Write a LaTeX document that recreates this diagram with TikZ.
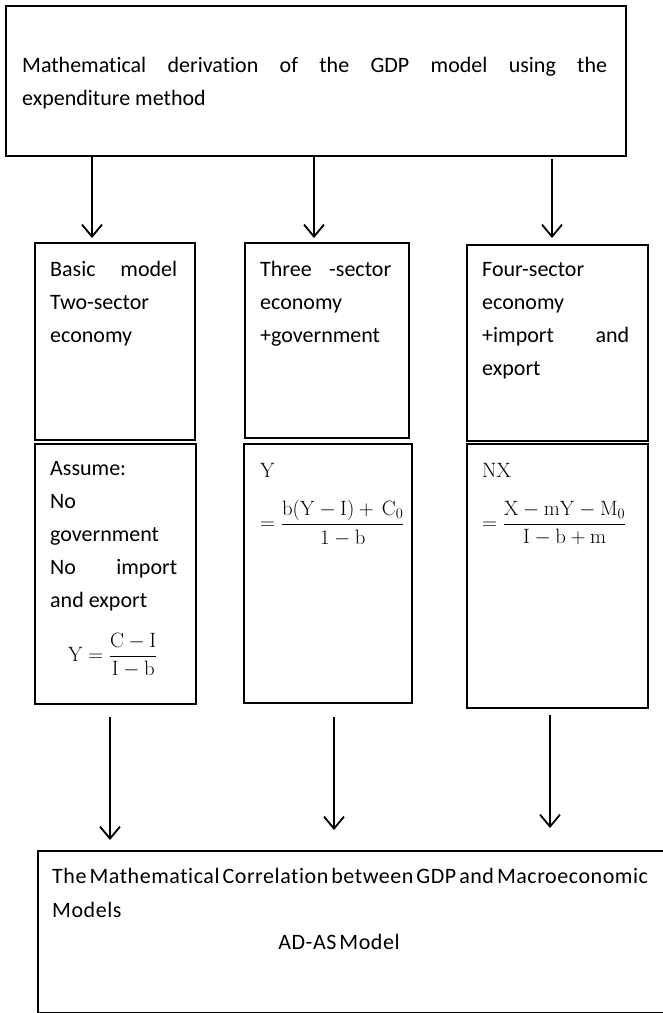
\documentclass[tikz,border=0pt]{standalone}
\usepackage[no-math]{fontspec}
\setmainfont[Ligatures=NoCommon]{Carlito}
\newfontfamily\widefont[Ligatures=NoCommon,LetterSpace=2.5]{Carlito}
\usetikzlibrary{arrows.meta}
\newcommand\fs{\fontsize{22}{33}\selectfont}
\begin{document}
\begin{tikzpicture}[x=1pt,y=-1pt,
  box/.style={draw, line width=2.4pt, inner sep=0pt, anchor=north west},
  txt/.style={anchor=base west, inner sep=0pt, font=\fs},
  mth/.style={anchor=west, inner sep=0pt, font=\fs},
  arr/.style={line width=1.8pt, -{Straight Barb[length=12pt,width=20pt,line width=1.8pt]}}]
\useasboundingbox (0,0) rectangle (663,1013);
\fill[white] (0,0) rectangle (663,1013);
% boxes
\node[box, minimum width=620pt, minimum height=150pt] (top) at (5,5) {};
\node[box, minimum width=160pt, minimum height=197pt] (b1u) at (34,242) {};
\node[box, minimum width=164pt, minimum height=195pt] (b2u) at (244,242) {};
\node[box, minimum width=181pt, minimum height=196pt] (b3u) at (466,244) {};
\node[box, minimum width=161pt, minimum height=260pt] (b1l) at (34,443) {};
\node[box, minimum width=168pt, minimum height=259pt] (b2l) at (243,443) {};
\node[box, minimum width=181pt, minimum height=264pt] (b3l) at (466,443) {};
\node[box, minimum width=640pt, minimum height=162pt] (bot) at (37,850) {};
% top text
\node[txt] (t1) at (22,72) {\makebox[585pt][s]{Mathematical derivation of the GDP model using the}};
\node[txt] (t2) at (22,105) {expenditure method};
% upper boxes text
\node[txt] (u11) at (50,276) {\makebox[127pt][s]{Basic model}};
\node[txt] (u12) at (50,309) {Two-sector};
\node[txt] (u13) at (50,342) {economy};
\node[txt] (u21) at (260,276) {\makebox[131pt][s]{Three -sector}};
\node[txt] (u22) at (260,309) {economy};
\node[txt] (u23) at (260,342) {+government};
\node[txt] (u31) at (482,276) {Four-sector};
\node[txt] (u32) at (482,309) {economy};
\node[txt] (u33) at (482,342) {\makebox[147pt][s]{+import and}};
\node[txt] (u34) at (482,375) {export};
% lower boxes text
\node[txt] (l11) at (50,475) {Assume:};
\node[txt] (l12) at (50,508) {No};
\node[txt] (l13) at (50,541) {government};
\node[txt] (l14) at (50,574) {\makebox[127pt][s]{No import}};
\node[txt] (l15) at (50,607) {and export};
\node[mth] (f1) at (68,655) {$\displaystyle \mathrm{Y}=\frac{\mathrm{C}-\mathrm{I}}{\mathrm{I}-\mathrm{b}}$};
\node[txt] (l21) at (260,477) {$\mathrm{Y}$};
\node[mth] (f2) at (260,523) {$\displaystyle =\frac{\mathrm{b(Y-I)+\,C_0}}{1-\mathrm{b}}$};
\node[txt] (l31) at (482,477) {$\mathrm{NX}$};
\node[mth] (f3) at (482,523) {$\displaystyle =\frac{\mathrm{X-mY-M_0}}{\mathrm{I-b+m}}$};
% bottom text
\node[txt] (bt1) at (52,883) {\widefont\spaceskip=3pt\makebox[603pt][s]{The Mathematical Correlation between GDP and Macroeconomic}};
\node[txt] (bt2) at (52,917) {\widefont Models};
\node[anchor=base, inner sep=0pt, font=\fs] (bt3) at (339,949) {\widefont\spaceskip=3pt AD-AS Model};
% arrows
\coordinate (c1) at (92,0);
\coordinate (c2) at (314,0);
\coordinate (c3) at (552,0);
\coordinate (c4) at (110,0);
\coordinate (c5) at (334,0);
\coordinate (c6) at (550,0);
\draw[arr, shorten >=4pt] (top.south -| c1) -- (b1u.north -| c1);
\draw[arr, shorten >=4pt] (top.south -| c2) -- (b2u.north -| c2);
\draw[arr, shorten <=2pt, shorten >=6pt] (top.south -| c3) -- (b3u.north -| c3);
\draw[arr, shorten <=12pt, shorten >=10pt] (b1l.south -| c4) -- (bot.north -| c4);
\draw[arr, shorten <=13pt, shorten >=20pt] (b2l.south -| c5) -- (bot.north -| c5);
\draw[arr, shorten <=6pt, shorten >=22pt] (b3l.south -| c6) -- (bot.north -| c6);
\end{tikzpicture}
\end{document}
